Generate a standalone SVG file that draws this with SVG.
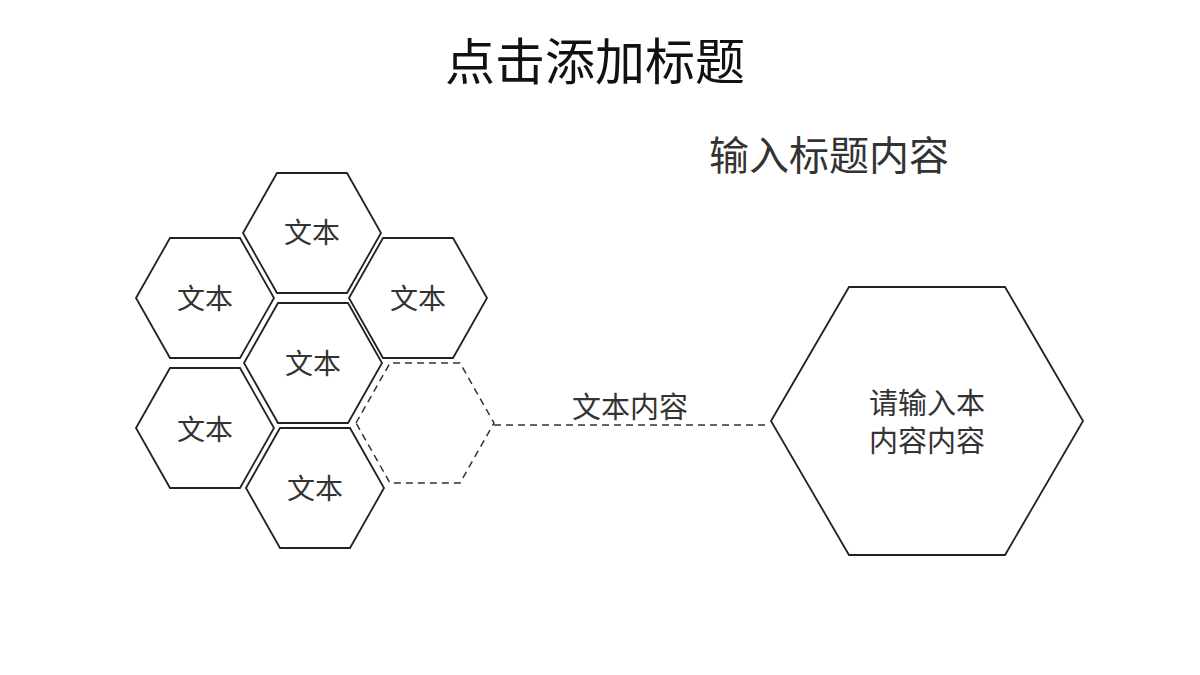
<svg xmlns="http://www.w3.org/2000/svg" width="1200" height="675" viewBox="0 0 1200 675">
<style>
.h{fill:#fff;stroke:#222;stroke-width:1.8}
.d{fill:none;stroke:#333;stroke-width:1.5;stroke-dasharray:7 5}
text{font-family:"Noto Sans CJK SC",sans-serif;fill:#333;text-anchor:middle}
.t{font-size:28px}
.u{font-size:29px}
</style>
<defs><polygon id="hx" points="-69,0 -35,-60 35,-60 69,0 35,60 -35,60"/></defs>
<rect width="1200" height="675" fill="#fff"/>
<text x="595" y="80" font-size="50" style="fill:#111">点击添加标题</text>
<text x="829" y="170" font-size="40">输入标题内容</text>
<g id="connectors"><line class="d" x1="494" y1="425" x2="770" y2="425"/></g>
<g id="n1"><use href="#hx" class="h" x="312" y="233"/><text class="t" x="312" y="243">文本</text></g>
<g id="n2"><use href="#hx" class="h" x="205" y="298"/><text class="t" x="205" y="309">文本</text></g>
<g id="n3"><use href="#hx" class="h" x="418" y="298"/><text class="t" x="418" y="309">文本</text></g>
<g id="n4"><use href="#hx" class="h" x="313" y="363"/><text class="t" x="313" y="374">文本</text></g>
<g id="n5"><use href="#hx" class="h" x="205" y="428"/><text class="t" x="205" y="440">文本</text></g>
<g id="n6"><use href="#hx" class="h" x="315" y="488"/><text class="t" x="315" y="499">文本</text></g>
<g id="n7"><use href="#hx" class="d" x="425" y="423"/></g>
<g id="label"><text class="u" x="630" y="418">文本内容</text></g>
<g id="big"><polygon class="h" points="771,421 849,287 1005,287 1083,421 1005,555 849,555"/>
<text class="u" x="927" y="414">请输入本</text><text class="u" x="927" y="452">内容内容</text></g>
</svg>
